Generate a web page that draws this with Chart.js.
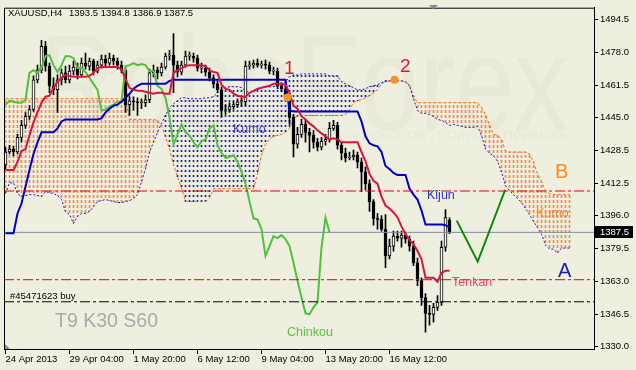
<!DOCTYPE html>
<html><head><meta charset="utf-8">
<script src="https://cdn.jsdelivr.net/npm/chart.js@4.4.0/dist/chart.umd.min.js"></script>
<style>html,body{margin:0;padding:0;background:#efefdf;overflow:hidden}canvas{display:block}</style>
</head><body><canvas id="c" width="636" height="370"></canvas>
<script>
// ---------- DATA (XAUUSD H4, Ichimoku 9/30/60) ----------
const xTickPos = [0, 16, 32, 48, 64, 80, 96];
const xTickLabels = ['24 Apr 2013', '29 Apr 04:00', '1 May 20:00', '6 May 12:00', '9 May 04:00', '13 May 20:00', '16 May 12:00'];
const yTickPos = [1494.5, 1478.05, 1461.6, 1445.15, 1428.7, 1412.25, 1395.8, 1379.35, 1362.9, 1346.45, 1330.0];
const yTickLabels = ['1494.5', '1478.0', '1461.5', '1445.0', '1428.5', '1412.5', '1396.0', '1379.5', '1363.0', '1346.5', '1330.0'];

const opens = [1421.4,1427.9,1429.4,1427.9,1435.3,1441.3,1445.8,1449.3,1464.2,1469.1,
1481.1,1471.1,1461.2,1459.2,1464.2,1467.7,1464.2,1468.6,1470.6,1466.7,
1472.6,1471.1,1473.6,1468.6,1471.6,1474.6,1472.6,1475.1,1473.6,1471.6,
1469.1,1451.7,1453.7,1453.2,1452.7,1452.7,1454.2,1467.7,1469.1,1467.7,
1470.6,1476.1,1476.6,1471.6,1468.1,1471.6,1476.1,1476.1,1475.1,1470.1,
1470.1,1468.1,1465.2,1462.2,1459.2,1448.8,1449.3,1450.7,1451.7,1453.2,
1453.2,1471.1,1471.6,1472.6,1471.6,1472.1,1471.6,1468.6,1468.6,1461.2,
1459.7,1455.2,1445.3,1431.8,1436.8,1441.8,1437.8,1436.3,1432.8,1430.3,
1433.3,1434.3,1439.8,1441.3,1431.3,1427.4,1424.9,1425.4,1426.4,1422.9,
1417.9,1412.0,1403.0,1394.5,1394.0,1389.1,1375.6,1380.6,1385.6,1384.6,
1386.1,1384.1,1380.6,1372.2,1363.2,1354.7,1346.8,1346.3,1349.8,1352.3,
1380.0,1393.5];
const highs = [1430.3,1431.3,1430.8,1436.8,1443.8,1447.8,1451.2,1466.2,1471.6,1484.1,
1483.6,1472.6,1465.2,1466.7,1469.6,1471.1,1471.6,1473.6,1472.6,1475.1,
1477.6,1475.1,1474.6,1473.6,1476.6,1476.6,1477.6,1476.6,1475.1,1473.6,
1470.6,1456.2,1455.7,1455.2,1454.7,1456.7,1469.6,1471.6,1470.6,1472.6,
1477.6,1479.1,1487.5,1473.6,1473.6,1478.6,1478.1,1477.6,1476.6,1472.6,
1471.6,1470.1,1466.7,1463.7,1460.7,1451.7,1452.7,1453.2,1454.7,1455.2,
1473.6,1473.6,1474.1,1474.6,1473.6,1474.1,1473.1,1470.6,1470.1,1462.7,
1461.2,1456.7,1446.8,1440.3,1444.3,1443.8,1439.8,1438.8,1434.8,1435.3,
1436.8,1442.8,1443.8,1442.8,1432.8,1429.9,1427.9,1428.9,1427.9,1424.9,
1420.4,1413.9,1404.0,1397.0,1396.0,1396.5,1384.1,1388.1,1388.1,1388.1,
1387.6,1385.6,1383.1,1374.6,1364.7,1356.7,1350.8,1351.8,1355.7,1383.1,
1399.0,1394.8];
const lows = [1419.4,1426.9,1425.9,1426.9,1432.8,1439.8,1444.3,1448.3,1462.7,1467.7,
1468.6,1457.7,1456.7,1447.8,1461.7,1462.7,1462.7,1466.7,1464.7,1465.7,
1469.6,1469.1,1466.7,1467.7,1470.1,1470.6,1471.6,1471.6,1469.6,1467.7,
1447.8,1446.3,1448.8,1446.3,1449.7,1450.7,1452.7,1465.7,1464.7,1466.2,
1469.6,1474.1,1457.7,1465.7,1466.7,1470.6,1474.1,1473.1,1468.6,1467.7,
1466.2,1463.7,1460.2,1457.7,1445.3,1446.8,1447.8,1449.3,1450.2,1450.7,
1451.2,1469.6,1470.1,1470.6,1470.1,1469.6,1467.2,1466.7,1459.7,1458.2,
1453.7,1441.8,1425.4,1429.9,1435.3,1432.8,1427.9,1429.9,1428.4,1428.9,
1431.3,1432.8,1438.8,1429.4,1423.9,1422.9,1423.9,1423.9,1419.9,1408.0,
1409.0,1398.0,1391.1,1389.1,1388.1,1369.7,1374.1,1378.1,1383.1,1380.1,
1382.1,1378.1,1370.7,1360.7,1350.8,1337.3,1340.8,1342.3,1348.3,1350.8,
1378.1,1386.9];
const closes = [1427.9,1429.4,1427.9,1435.3,1441.3,1445.8,1449.3,1464.2,1469.1,1481.1,
1471.1,1461.2,1459.2,1464.2,1467.7,1464.2,1468.6,1470.6,1466.7,1472.6,
1471.1,1473.6,1468.6,1471.6,1474.6,1472.6,1475.1,1473.6,1471.6,1469.1,
1451.7,1453.7,1453.2,1452.7,1452.7,1454.2,1467.7,1469.1,1467.7,1470.6,
1476.1,1476.6,1471.6,1468.1,1471.6,1476.1,1476.1,1475.1,1470.1,1470.1,
1468.1,1465.2,1462.2,1459.2,1448.8,1449.3,1450.7,1451.7,1453.2,1453.2,
1471.1,1471.6,1472.6,1471.6,1472.1,1471.6,1468.6,1468.6,1461.2,1459.7,
1455.2,1445.3,1431.8,1436.8,1441.8,1437.8,1436.3,1432.8,1430.3,1433.3,
1434.3,1439.8,1441.3,1431.3,1427.4,1424.9,1425.4,1426.4,1422.9,1417.9,
1412.0,1403.0,1394.5,1394.0,1389.1,1375.6,1380.6,1385.6,1384.6,1386.1,
1384.1,1380.6,1372.2,1363.2,1354.7,1346.8,1346.3,1349.8,1352.3,1380.0,
1395.0,1387.5];

const tenkan = [1418.9,1418.9,1418.9,1422.9,1428.4,1429.4,1436.3,1442.8,1447.8,1452.7,
1455.7,1456.2,1460.2,1463.2,1465.2,1466.7,1466.2,1465.7,1465.7,1465.7,
1465.7,1466.2,1467.7,1470.1,1470.6,1470.6,1470.6,1470.6,1470.6,1469.6,
1464.7,1460.2,1459.2,1458.7,1458.7,1458.2,1457.7,1457.2,1457.7,1457.7,
1457.2,1457.2,1467.7,1469.1,1470.1,1471.1,1471.6,1471.6,1471.6,1471.6,
1471.1,1469.1,1468.1,1467.7,1461.7,1459.7,1459.2,1457.2,1456.2,1455.7,
1455.7,1457.7,1458.7,1459.7,1460.2,1460.7,1461.2,1462.2,1462.2,1462.2,
1461.7,1457.7,1451.2,1449.7,1445.8,1444.3,1442.3,1440.8,1438.8,1437.3,
1435.8,1434.3,1434.8,1434.3,1432.8,1432.8,1432.8,1432.8,1432.8,1427.9,
1423.4,1416.9,1413.4,1412.0,1405.5,1401.0,1399.5,1397.5,1395.0,1390.5,
1386.6,1383.6,1381.6,1378.1,1374.1,1364.7,1364.7,1364.7,1362.7,1367.2,
1368.2,1368.2];
const kijun = [1387.1,1387.1,1387.1,1397.0,1402.0,1410.5,1418.9,1426.9,1432.8,1437.8,
1437.8,1437.8,1437.8,1439.8,1443.3,1444.3,1444.3,1444.3,1444.3,1444.3,
1444.3,1444.3,1444.3,1444.3,1444.8,1447.8,1449.7,1451.2,1451.7,1453.2,
1455.2,1457.2,1459.7,1461.2,1462.2,1462.2,1462.2,1462.2,1462.2,1462.2,
1462.2,1463.7,1464.2,1464.2,1464.2,1464.2,1464.2,1464.2,1464.2,1464.2,
1464.2,1464.2,1464.2,1464.2,1464.2,1464.2,1464.2,1464.2,1464.2,1464.2,
1464.2,1464.2,1464.2,1464.2,1464.2,1464.2,1464.2,1464.2,1464.2,1464.2,
1464.2,1448.8,1448.3,1448.3,1448.3,1448.3,1448.3,1448.3,1448.3,1448.3,
1448.3,1448.3,1448.3,1448.3,1448.3,1448.3,1448.3,1448.3,1448.3,1443.3,
1435.8,1432.3,1431.3,1430.8,1427.9,1420.9,1419.4,1417.4,1416.4,1416.4,
1416.4,1409.5,1406.5,1404.0,1398.5,1391.5,1391.5,1391.5,1391.5,1391.5,
1391.1,1390.0];
const chinkou = [1451.7,1453.7,1453.2,1452.7,1452.7,1454.2,1467.7,1469.1,1467.7,1470.6,
1476.1,1476.6,1471.6,1468.1,1471.6,1476.1,1476.1,1475.1,1470.1,1470.1,
1468.1,1465.2,1462.2,1459.2,1448.8,1449.3,1450.7,1451.7,1453.2,1453.2,
1471.1,1471.6,1472.6,1471.6,1472.1,1471.6,1468.6,1468.6,1461.2,1459.7,
1455.2,1445.3,1431.8,1436.8,1441.8,1437.8,1436.3,1432.8,1430.3,1433.3,
1434.3,1439.8,1441.3,1431.3,1427.4,1424.9,1425.4,1426.4,1422.9,1417.9,
1412.0,1403.0,1394.5,1394.0,1389.1,1375.6,1380.6,1385.6,1384.6,1386.1,
1384.1,1380.6,1372.2,1363.2,1354.7,1346.8,1346.3,1349.8,1352.3,1380.0,
1395.0,1387.5];
const senkouA = [1407.0,1412.4,1412.4,1407.0,1405.5,1406.0,1406.5,1406.5,1406.0,1405.5,
1408.0,1407.5,1407.0,1406.0,1404.0,1398.0,1396.5,1392.0,1395.5,1397.0,
1397.0,1398.0,1400.5,1403.0,1403.5,1404.0,1403.5,1403.0,1402.5,1402.5,
1403.0,1403.5,1404.5,1406.5,1412.9,1419.4,1427.9,1432.8,1437.8,1442.3,
1446.3,1450.2,1452.2,1453.7,1455.2,1455.2,1454.7,1454.7,1454.7,1454.7,
1455.2,1455.2,1455.7,1457.7,1459.2,1460.2,1460.7,1460.7,1460.7,1460.2,
1458.7,1457.7,1458.2,1459.2,1460.2,1460.7,1460.7,1460.7,1461.2,1461.2,
1463.2,1465.7,1466.7,1466.7,1467.2,1467.2,1467.2,1467.2,1467.2,1467.2,
1467.2,1466.2,1466.2,1466.2,1463.2,1462.2,1461.2,1460.2,1459.2,1459.2,
1459.7,1460.7,1461.2,1461.7,1462.7,1463.7,1463.7,1463.7,1463.7,1463.7,
1463.2,1461.2,1454.7,1448.8,1447.3,1447.3,1446.8,1445.8,1444.3,1443.8,
1442.8,1441.3,1441.8,1441.3,1440.8,1440.3,1440.3,1440.3,1440.8,1436.3,
1429.4,1427.4,1425.9,1423.4,1417.9,1411.0,1408.5,1406.5,1404.5,1402.5,
1399.5,1396.5,1393.0,1390.0,1386.6,1381.1,1379.1,1379.1,1377.1,1379.6,
1379.6,1379.6];
const senkouB = [1454.7,1454.7,1454.7,1454.7,1454.7,1454.7,1454.7,1454.7,1454.7,1454.7,
1454.7,1454.7,1454.7,1454.7,1454.7,1454.7,1454.7,1454.7,1454.7,1454.7,
1454.7,1454.7,1454.7,1454.7,1454.7,1454.7,1454.7,1454.7,1454.7,1454.7,
1454.7,1444.3,1444.3,1444.3,1444.3,1444.3,1444.3,1444.3,1443.8,1441.3,
1435.3,1429.4,1421.4,1415.4,1410.0,1403.0,1403.0,1403.0,1403.0,1403.0,
1403.0,1405.0,1409.5,1409.5,1409.5,1409.5,1409.5,1409.5,1409.5,1409.5,
1409.5,1409.5,1409.5,1416.9,1426.4,1431.8,1434.3,1435.8,1436.3,1436.8,
1437.8,1439.8,1445.3,1445.8,1446.3,1446.3,1446.3,1446.3,1446.3,1446.3,
1446.3,1446.3,1446.3,1446.3,1446.3,1446.8,1449.3,1452.7,1453.7,1454.2,
1455.2,1456.2,1457.7,1459.2,1462.2,1463.2,1463.7,1464.2,1464.2,1463.7,
1463.2,1461.7,1456.2,1452.7,1452.7,1452.7,1452.7,1452.7,1452.7,1452.7,
1452.7,1452.7,1452.7,1452.7,1452.7,1452.7,1452.7,1452.7,1452.7,1450.2,
1446.8,1441.3,1436.8,1436.3,1434.3,1428.4,1427.9,1427.9,1427.9,1427.9,
1427.9,1426.9,1422.9,1416.9,1412.9,1408.5,1407.0,1406.5,1406.5,1406.5,
1406.5,1406.5];

// forecast zig-zag (bar index, price)
const forecastX = [112.8, 118.05, 124.9];
const forecastY = [1393.4, 1372.8, 1408.8];
// horizontal levels
const bidLevel = 1387.5;
const redLevels = [1408.3, 1363.7];
const orderLevel = 1352.6;
// signal dots (bar index, price)
const dotX = [70.5, 97.25];
const dotY = [1455.3, 1464.2];

const headerSymbol = 'XAUUSD,H4';
const headerPrices = '1393.5 1394.8 1386.9 1387.5';
const bidLabel = '1387.5';

// ---------- CHART ----------
const FONT = '"Liberation Sans", Arial, Helvetica, sans-serif';
const BG = '#efefdf';
const X_MIN = -0.375, X_MAX = 147.125;
const canvas = document.getElementById('c');
const ctx = canvas.getContext('2d');

function makePattern(color, on, period) {
  const p = document.createElement('canvas');
  p.width = 4; p.height = period;
  const g = p.getContext('2d');
  g.fillStyle = color; g.fillRect(0, 0, 4, on);
  return ctx.createPattern(p, 'repeat');
}
const orangeHatch = makePattern('#f08a52', 3, 5);
const blueHatch = makePattern('#2222a6', 2, 5);

const pts = (arr, start) => arr.map((v, i) => ({ x: i + start, y: v }));
const hline = v => [{ x: X_MIN, y: v }, { x: X_MAX, y: v }];

const datasets = [
  { type: 'bar', label: 'kumo', data: senkouA.map((a, i) => ({ x: i, y: [a, senkouB[i]] })),
    backgroundColor: senkouA.map((a, i) => senkouB[i] >= a ? orangeHatch : blueHatch),
    barThickness: 1, grouped: false, borderWidth: 0, order: 30 },
  { type: 'line', label: 'senkouB', data: pts(senkouB, 0), borderColor: '#f26a1e', borderWidth: 1,
    borderDash: [3, 2], pointRadius: 0, order: 25 },
  { type: 'line', label: 'senkouA', data: pts(senkouA, 0), borderColor: '#1515c8', borderWidth: 1,
    borderDash: [2, 2], pointRadius: 0, order: 24 },
  { type: 'bar', label: 'wick', data: lows.map((l, i) => ({ x: i, y: [l, highs[i]] })),
    backgroundColor: '#000', barThickness: 1, grouped: false, borderWidth: 0, order: 20 },
  { type: 'bar', label: 'body', data: opens.map((o, i) => ({ x: i, y: [o, closes[i]] })),
    backgroundColor: opens.map((o, i) => closes[i] >= o ? '#ffffff' : '#000000'),
    borderColor: '#000', borderWidth: 1, borderSkipped: false, barThickness: 3, grouped: false,
    minBarLength: 1, order: 19 },
  { type: 'line', label: 'bid', data: hline(bidLevel), borderColor: '#7e8ca2', borderWidth: 1, pointRadius: 0, order: 18 },
  { type: 'line', label: 'chinkou', data: pts(chinkou, 0), borderColor: '#4fc23c', borderWidth: 2, pointRadius: 0, order: 12 },
  { type: 'line', label: 'kijun', data: pts(kijun, 0), borderColor: '#0000c8', borderWidth: 2, pointRadius: 0, order: 11 },
  { type: 'line', label: 'tenkan', data: pts(tenkan, 0), borderColor: '#dc143c', borderWidth: 2, pointRadius: 0, order: 10 },
  { type: 'line', label: 'forecast', data: forecastX.map((x, i) => ({ x, y: forecastY[i] })), borderColor: '#0a8a0a', borderWidth: 2, pointRadius: 0, order: 9 },
  { type: 'line', label: 'red1', data: hline(redLevels[0]), borderColor: '#e60000', borderWidth: 1, borderDash: [10, 3, 3, 3], pointRadius: 0, order: 8 },
  { type: 'line', label: 'red2', data: hline(redLevels[1]), borderColor: '#e60000', borderWidth: 1, borderDash: [10, 3, 3, 3], pointRadius: 0, order: 8 },
  { type: 'line', label: 'order', data: hline(orderLevel), borderColor: '#000', borderWidth: 1, borderDash: [10, 3, 3, 3], pointRadius: 0, order: 8 },
  { type: 'line', label: 'dots', data: dotX.map((x, i) => ({ x, y: dotY[i] })), showLine: false,
    pointRadius: 4, pointBackgroundColor: '#f7941d', pointBorderWidth: 0, order: 5 }
];

function txt(c, s, x, y, size, color, weight) {
  c.font = (weight || '') + ' ' + size + 'px ' + FONT;
  c.fillStyle = color; c.textAlign = 'left'; c.textBaseline = 'alphabetic';
  c.fillText(s, x, y);
}

const decor = {
  id: 'decor',
  beforeDraw(chart) {
    const c = chart.ctx;
    c.save();
    c.fillStyle = BG; c.fillRect(0, 0, chart.width, chart.height);
    c.fillStyle = '#e9e9d9';
    c.font = '135px ' + FONT;
    c.textBaseline = 'alphabetic';
    c.save(); c.translate(40, 130); c.scale(0.79, 1); c.fillText('RoboForex', 0, 0); c.restore();
    c.fillStyle = '#e8e8d8';
    c.font = '13px ' + FONT; c.textAlign = 'right';
    c.fillText('ТОРГОВЫХ РОБОТОВ - ПОЛУЧАЙ ПРИБЫЛЬ', 568, 140);
    c.restore();
  },
  afterDatasetsDraw(chart) {
    const c = chart.ctx;
    c.save();
    txt(c, headerSymbol, 8, 16, 9.5, '#000');
    txt(c, headerPrices, 69, 16, 9.5, '#000');
    txt(c, '1', 284, 74, 19, '#dc143c');
    txt(c, '2', 400, 72, 19, '#dc143c');
    txt(c, 'Kumo', 233, 133, 12.5, '#4444cc');
    txt(c, 'Kijun', 427, 199, 12.5, '#3333aa');
    txt(c, 'Kumo', 536, 216.5, 12.5, '#f0883c');
    txt(c, 'B', 555, 178, 20, '#ff8c1a');
    txt(c, 'A', 558, 276.5, 20, '#1a1ab4');
    txt(c, 'Tenkan', 452, 285.5, 12.5, '#e04a6a');
    txt(c, 'Chinkou', 287, 335.5, 12.5, '#55c444');
    txt(c, 'T9 K30 S60', 55, 327, 19.5, '#a9a9a9');
    txt(c, '#45471623 buy', 10, 299, 9.5, '#000');
    c.restore();
  },
  afterDraw(chart) {
    const c = chart.ctx, a = chart.chartArea;
    c.save();
    c.strokeStyle = '#000'; c.lineWidth = 1;
    c.beginPath();
    c.moveTo(a.left + 0.5, a.bottom); c.lineTo(a.left + 0.5, a.top + 0.5); c.lineTo(a.right + 1, a.top + 0.5);
    c.stroke();
    // chart shift marker and corner marker
    c.fillStyle = '#7f8b9a';
    c.beginPath(); c.moveTo(429, 5); c.lineTo(438, 5); c.lineTo(433.5, 9.5); c.closePath(); c.fill();
    c.beginPath(); c.moveTo(5, 344); c.lineTo(5, 349); c.lineTo(10, 349); c.closePath(); c.fill();
    // bid price box
    const y = Math.round(chart.scales.y.getPixelForValue(bidLevel));
    c.fillStyle = '#000'; c.fillRect(595, y - 6, 38, 12);
    c.fillStyle = '#fff'; c.font = '9.5px ' + FONT; c.textBaseline = 'middle'; c.textAlign = 'left';
    c.fillText(bidLabel, 600, y + 0.5);
    c.restore();
  }
};

new Chart(ctx, {
  type: 'bar',
  data: { datasets },
  options: {
    responsive: false, animation: false, devicePixelRatio: 1,
    events: [],
    layout: { padding: { left: 4, top: 4, right: 0, bottom: 0 } },
    plugins: { legend: { display: false }, tooltip: { enabled: false } },
    scales: {
      x: {
        type: 'linear', min: X_MIN, max: X_MAX, offset: false, position: 'bottom',
        afterBuildTicks: s => { s.ticks = xTickPos.map(v => ({ value: v })); },
        afterFit: s => { s.height = 21; },
        grid: { display: true, drawOnChartArea: false, drawTicks: true, tickLength: 5, tickColor: '#000', offset: false },
        border: { display: true, color: '#000', width: 1 },
        ticks: { autoSkip: false, maxRotation: 0, minRotation: 0, align: 'start', padding: 0, color: '#000',
          font: { family: FONT, size: 9.5 }, callback: (v, i) => xTickLabels[i] }
      },
      y: {
        type: 'linear', position: 'right', min: 1328.856, max: 1500.476,
        afterBuildTicks: s => { s.ticks = yTickPos.map(v => ({ value: v })); },
        afterFit: s => { s.width = 42; },
        grid: { display: true, drawOnChartArea: false, drawTicks: true, tickLength: 4, tickColor: '#000' },
        border: { display: true, color: '#000', width: 1 },
        ticks: { autoSkip: false, padding: 2, color: '#000', font: { family: FONT, size: 9.5 },
          callback: (v, i) => yTickLabels[i] }
      }
    }
  },
  plugins: [decor]
});
</script></body></html>
